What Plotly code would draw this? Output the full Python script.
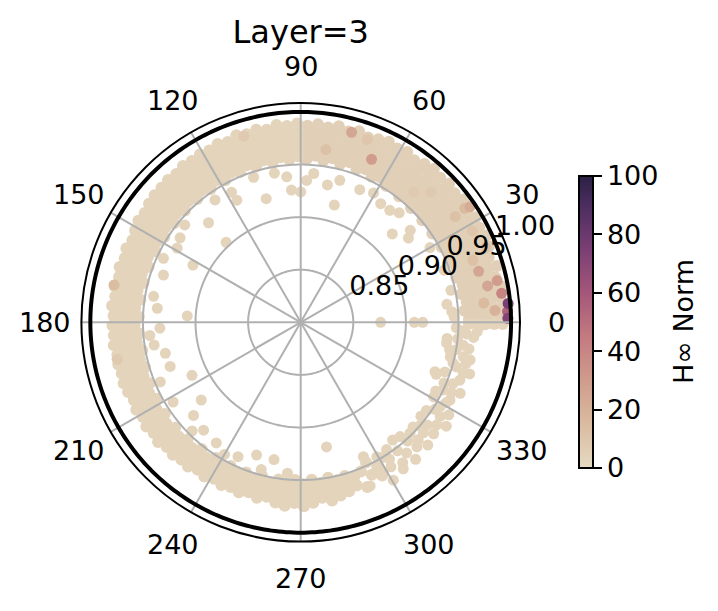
import numpy as np
import plotly.graph_objects as go

# ---------------- text / ticks ----------------
title_text = "Layer=3"
angle_ticks = [0, 30, 60, 90, 120, 150, 180, 210, 240, 270, 300, 330]
radial_ticks = [0.85, 0.90, 0.95, 1.00]
radial_labels = ["0.85", "0.90", "0.95", "1.00"]
cbar_ticks = [0, 20, 40, 60, 80, 100]
cbar_title = "H∞ Norm"

# ---------------- data ----------------
# dense ring: (theta deg, radii in thousandths ...)
ring_ne = [
    (1, 960, 968, 976, 984, 992, 996), (4, 956, 964, 972, 980, 988, 995),
    (7, 959, 967, 975, 983, 991), (10, 955, 963, 971, 979, 987, 995),
    (13, 958, 966, 974, 982, 990), (16, 954, 962, 970, 978, 986, 994),
    (19, 957, 965, 973, 981, 989), (22, 953, 961, 969, 977, 985, 993),
    (25, 956, 964, 972, 980, 988, 995), (28, 952, 960, 968, 976, 984, 992),
    (31, 955, 963, 971, 979, 987, 994), (34, 951, 959, 967, 975, 983, 991),
    (37, 955, 963, 971, 979, 987, 994), (40, 951, 959, 967, 975, 983, 991),
    (43, 955, 963, 971, 979, 987, 993), (46, 951, 959, 967, 975, 983, 991),
    (49, 955, 963, 971, 979, 987, 993), (52, 952, 960, 968, 976, 984, 991),
    (55, 956, 964, 972, 980, 988), (58, 953, 961, 969, 977, 985, 991),
    (61, 957, 965, 973, 981, 989), (64, 954, 962, 970, 978, 986, 991),
    (67, 958, 966, 974, 982, 989), (70, 955, 963, 971, 979, 987),
    (73, 959, 967, 975, 983, 990), (76, 955, 963, 971, 979, 987),
    (79, 959, 967, 975, 983, 990), (82, 955, 963, 971, 979, 987),
    (85, 959, 967, 975, 983, 989), (88, 955, 963, 971, 979, 987),
]
ring_nw = [
    (91, 958, 966, 974, 982, 989), (94, 955, 963, 971, 979, 987),
    (97, 958, 966, 974, 982, 989), (100, 954, 962, 970, 978, 986),
    (103, 958, 966, 974, 982, 988), (106, 954, 962, 970, 978, 986),
    (109, 958, 966, 974, 982, 988), (112, 954, 962, 970, 978, 985),
    (115, 957, 965, 973, 981, 987), (118, 953, 961, 969, 977, 985),
    (121, 957, 965, 973, 981, 986), (124, 953, 961, 969, 977, 985),
    (127, 957, 965, 973, 981, 986), (130, 953, 961, 969, 977, 984),
    (133, 957, 965, 973, 981, 985), (136, 953, 961, 969, 977, 984),
    (139, 957, 965, 973, 981, 984), (142, 953, 961, 969, 977, 983),
    (145, 957, 965, 973, 981), (148, 953, 961, 969, 977, 982),
    (151, 957, 965, 973, 980), (154, 954, 962, 970, 978),
    (157, 958, 966, 974, 980), (160, 954, 962, 970, 978),
    (163, 958, 966, 974, 980), (166, 954, 962, 970, 978),
    (169, 958, 966, 974, 980), (172, 954, 962, 970, 978),
    (175, 958, 966, 974, 980), (178, 954, 962, 970, 978),
]
ring_sw = [
    (181, 958, 966, 974, 979), (184, 954, 962, 970, 978),
    (187, 957, 965, 973, 979), (190, 953, 961, 969, 977),
    (193, 957, 965, 973, 978), (196, 954, 962, 970, 977),
    (199, 958, 966, 974, 978), (202, 955, 963, 971, 977),
    (205, 959, 967, 975), (208, 955, 963, 971, 977),
    (211, 960, 968, 975), (214, 956, 964, 971, 977),
    (217, 960, 968, 975), (220, 956, 964, 971, 977),
    (223, 959, 967, 974), (226, 955, 962, 969, 975),
    (229, 958, 966, 973), (232, 953, 960, 967, 974),
    (235, 957, 964, 971), (238, 952, 959, 966, 973),
    (241, 956, 963, 970), (244, 952, 959, 966, 972),
    (247, 956, 963, 970), (250, 952, 959, 966, 972),
    (253, 955, 962, 969), (256, 951, 958, 965, 972),
    (259, 955, 962, 969), (262, 951, 958, 965, 973),
    (265, 954, 961, 968, 975), (268, 950, 957, 964, 972),
]
ring_se = [
    (271, 954, 961, 968, 975), (274, 950, 957, 964, 972),
    (277, 954, 961, 968), (280, 950, 958, 966, 972),
    (283, 954, 962, 969), (286, 952, 960, 967),
    (289, 956, 964), (292, 953, 969), (295, 947, 960),
    (298, 955, 965), (359.5, 960, 968, 976, 984, 992),
]
ring_hinf = [5, 3, 3, 3]  # typical H-inf norm of each quadrant of the ring

# scattered points (theta deg, r in thousandths)
scatter_pts = [
    (0, 876), (0, 908), (0, 916), (7, 940), (4, 944), (2, 946), (12, 946),
    (20, 945), (30, 942), (38, 930), (40, 936), (44, 921), (48, 940),
    (51.5, 936), (56, 936), (60.6, 941), (66, 938), (74, 916), (74.6, 940),
    (79, 933), (85, 942), (87.6, 935), (90, 924),
    (94, 926), (95.5, 939), (100, 944), (105.6, 922), (108, 945),
    (117.6, 931), (118, 940), (125, 942), (132.8, 929), (133, 904),
    (140, 944), (145, 940), (149, 937), (152, 916), (155, 944), (161, 938),
    (170, 942), (174.4, 937), (176.8, 908),
    (182.4, 934), (185, 944), (188.8, 941), (192.9, 932), (198.7, 931),
    (203, 945), (206, 915), (212, 943), (218, 920), (221, 935), (225, 946),
    (228, 938), (235, 940), (240, 945), (245, 941), (251.6, 933),
    (255, 945), (259, 933), (265, 944),
    (281.7, 921), (293, 969), (295, 941), (298.7, 963), (299.5, 947),
    (300.4, 974), (301, 950), (302, 962), (303, 955), (304, 946),
    (305, 970), (306, 965), (307, 953), (308, 942), (309, 960),
    (310, 970), (311, 944), (312, 952), (313, 962), (314.6, 948),
    (315, 958), (316, 968), (317, 946), (318, 957), (319, 950),
    (320, 965), (321, 955), (322, 945), (323, 962), (324.5, 970),
    (325, 946), (326, 960), (327, 952), (328, 966), (329, 955),
    (330.7, 945), (331, 958), (332.5, 960), (333, 944), (334.6, 950),
    (335, 958), (336, 966), (337, 948), (338, 956), (339, 938),
    (339.8, 936), (340, 961), (341, 945), (342.6, 962), (343, 968),
    (344, 954), (345, 950), (346, 962), (347, 946), (347.5, 965),
    (348, 958), (349.5, 944), (350, 950), (351, 962), (352, 940),
    (352, 956), (353.7, 940), (354, 950), (355, 965), (356, 958),
    (357, 955), (357, 968), (358, 948), (359, 972),
]

# tinted points (theta deg, r in thousandths, H-inf norm)
tinted_pts = [
    (49, 964, 8), (45, 975, 8), (28, 985, 10), (22, 990, 12), (107, 985, 8),
    (191.4, 978, 8), (168.7, 981, 14), (81.7, 966, 12), (70, 985, 10),
    (34.4, 978, 12), (34.8, 990, 15), (19.8, 974, 12), (6, 975, 15),
    (3.5, 985, 20), (34.3, 995, 22), (75, 987, 25), (66.5, 969, 30),
    (16, 976, 25), (11, 981, 25), (12, 991, 30), (8.2, 993, 40),
    (3, 997, 55), (1.1, 997, 72), (5.2, 998, 75),
]

# colormap sampled from the colour bar
cmap_stops = [
    (0.00, "rgb(229,218,194)"), (0.15, "rgb(218,187,160)"),
    (0.30, "rgb(208,156,140)"), (0.45, "rgb(195,122,128)"),
    (0.60, "rgb(165,86,122)"), (0.75, "rgb(122,63,116)"),
    (0.90, "rgb(76,45,95)"), (1.00, "rgb(42,33,68)"),
]

# ---------------- assemble ----------------
theta, r, h, sz = [], [], [], []
for ring, hv in zip([ring_ne, ring_nw, ring_sw, ring_se], ring_hinf):
    for row in ring:
        for v in row[1:]:
            theta.append(row[0]); r.append(v / 1000); h.append(hv); sz.append(12)
for t, v in scatter_pts:
    theta.append(t); r.append(v / 1000); h.append(3); sz.append(11)
for t, v, hv in tinted_pts:
    theta.append(t); r.append(v / 1000); h.append(hv); sz.append(11)

r_min, r_max = 0.80, 1.0085
font = "DejaVu Sans"
W, H = 718, 611
cx, cy, R = 300.7, 322.3, 219.3      # polar centre / radius in pixels
label_radius = 256                    # angular tick labels sit on this circle (px)
tick_fs, title_fs = 27, 32

fig = go.Figure()
fig.add_trace(go.Scatterpolar(
    r=r, theta=theta, mode="markers", showlegend=False, hoverinfo="skip",
    marker=dict(size=sz, opacity=1, color=h, cmin=0, cmax=100,
                colorscale=[list(s) for s in cmap_stops], line=dict(width=0),
                colorbar=dict(x=579 / W, xanchor="left", xpad=0, ypad=0,
                              y=1 - 322 / H, yanchor="middle",
                              len=292, lenmode="pixels", thickness=14, thicknessmode="pixels",
                              outlinewidth=2, outlinecolor="black",
                              tickvals=cbar_ticks, ticks="outside", ticklen=8, tickwidth=2,
                              tickcolor="black",
                              tickfont=dict(size=tick_fs, color="black", family=font)))))

# grid drawn above the points (as in the reference)
g_th, g_r = [], []
for a in angle_ticks:
    g_th += [a, a, None]; g_r += [r_min, r_max, None]
circ = np.linspace(0, 360, 361)
for rv in radial_ticks[:-1]:
    g_th += list(circ) + [None]; g_r += [rv] * len(circ) + [None]
fig.add_trace(go.Scatterpolar(r=g_r, theta=g_th, mode="lines", showlegend=False,
                              hoverinfo="skip", line=dict(color="#b0b0b0", width=2)))
fig.add_trace(go.Scatterpolar(r=[1.0] * len(circ), theta=circ, mode="lines", showlegend=False,
                              hoverinfo="skip", line=dict(color="black", width=4)))
# radial tick labels, horizontal, at 22.5 degrees
fig.add_trace(go.Scatterpolar(r=radial_ticks, theta=[22.5] * len(radial_ticks), mode="text",
                              text=radial_labels, textposition="top right", showlegend=False,
                              hoverinfo="skip", cliponaxis=False,
                              textfont=dict(size=tick_fs, color="black", family=font)))

annotations = []
for a in angle_ticks:
    ang = np.deg2rad(a)
    annotations.append(dict(text=str(a), xref="paper", yref="paper",
                            x=(cx + label_radius * np.cos(ang)) / W,
                            y=1 - (cy - label_radius * np.sin(ang)) / H,
                            xanchor="center", yanchor="middle", showarrow=False,
                            font=dict(size=tick_fs, color="black", family=font)))
annotations.append(dict(text=cbar_title, xref="paper", yref="paper", x=683 / W, y=1 - 322 / H,
                        xanchor="center", yanchor="middle", textangle=-90, showarrow=False,
                        font=dict(size=tick_fs, color="black", family=font)))

fig.update_layout(
    width=W, height=H, margin=dict(l=0, r=0, t=0, b=0),
    paper_bgcolor="white", plot_bgcolor="white",
    font=dict(family=font, color="black", size=tick_fs),
    title=dict(text=title_text, x=cx / W, xanchor="center", y=1 - 31.5 / H, yanchor="middle",
               font=dict(size=title_fs, color="black", family=font)),
    annotations=annotations,
    polar=dict(
        domain=dict(x=[(cx - R) / W, (cx + R) / W], y=[1 - (cy + R) / H, 1 - (cy - R) / H]),
        bgcolor="white",
        radialaxis=dict(range=[r_min, r_max], showticklabels=False, showline=False, ticks="",
                        showgrid=False),
        angularaxis=dict(rotation=0, direction="counterclockwise", showticklabels=False,
                         showgrid=False, ticks="", showline=True, linecolor="black",
                         linewidth=2),
    ),
)
fig.write_html("out.html", config={"displayModeBar": False},
               post_script="document.body.style.margin='0px';")
